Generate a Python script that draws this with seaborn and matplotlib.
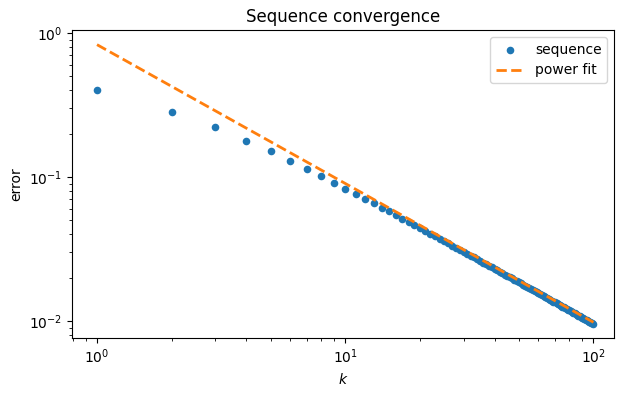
import matplotlib
matplotlib.use("Agg")
import matplotlib.pyplot as plt
import numpy as np
import pandas as pd
import seaborn as sns

# Data
k_values = list(range(1, 101))
errors = [
    0.400, 0.285, 0.221, 0.179, 0.1505, 0.1293, 0.1135, 0.1011, 0.0912, 0.0831,
    0.07632, 0.07058, 0.06566, 0.06139, 0.05765, 0.05434, 0.05139, 0.04876, 0.04638, 0.04423,
    0.04227, 0.04047, 0.03883, 0.03731, 0.03591, 0.03462, 0.03341, 0.03229, 0.03124, 0.03025,
    0.02933, 0.02846, 0.02765, 0.02687, 0.02615, 0.02546, 0.02480, 0.02418, 0.02359, 0.02303,
    0.02249, 0.02198, 0.02149, 0.02103, 0.02058, 0.02015, 0.01974, 0.01935, 0.01897, 0.01860,
    0.01825, 0.01792, 0.01759, 0.01728, 0.01698, 0.01669, 0.01640, 0.01613, 0.01587, 0.01562,
    0.01537, 0.01513, 0.01490, 0.01467, 0.01446, 0.01424, 0.01404, 0.01384, 0.01365, 0.01346,
    0.01327, 0.01310, 0.01292, 0.01275, 0.01259, 0.01243, 0.01227, 0.01212, 0.01197, 0.01183,
    0.01169, 0.01155, 0.01141, 0.01128, 0.01115, 0.01103, 0.01090, 0.01078, 0.01067, 0.01055,
    0.01044, 0.01033, 0.01022, 0.01011, 0.01001, 0.00991, 0.00981, 0.00971, 0.00962, 0.00952,
]
fit_k = [1, 100]
fit_err = [0.83, 0.0098]

seq = pd.DataFrame({"k": k_values, "error": errors})
fit = pd.DataFrame({"k": fit_k, "error": fit_err})

fig, ax = plt.subplots(figsize=(6.24, 3.97), dpi=100)
fig.subplots_adjust(left=0.1154, right=0.984, top=0.9244, bottom=0.1486)

sns.scatterplot(data=seq, x="k", y="error", ax=ax, color="C0", s=30,
                linewidth=0, label="sequence")
sns.lineplot(data=fit, x="k", y="error", ax=ax, color="C1", linestyle="--",
             linewidth=2, label="power fit")

ax.set_xscale("log")
ax.set_yscale("log")
ax.set_xlim(0.793, 121)
ax.set_ylim(0.00762, 1.049)
ax.set_title("Sequence convergence")
ax.set_xlabel("$k$")
ax.set_ylabel("error")
ax.legend(loc="upper right")

fig.savefig("out.png", dpi=100)
